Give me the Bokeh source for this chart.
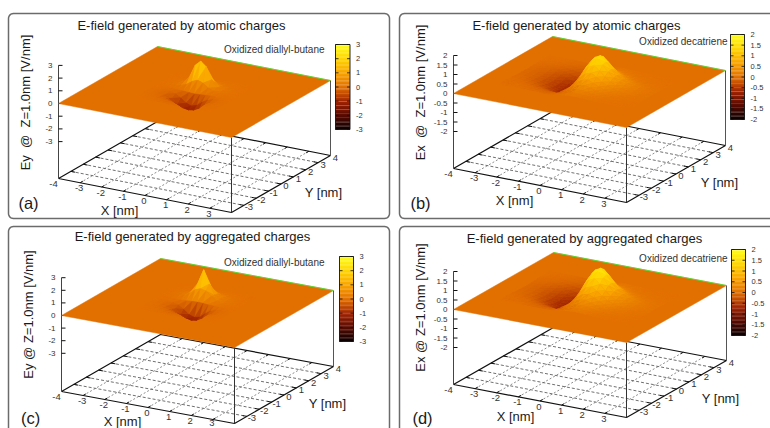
import math
from bokeh.plotting import figure
from bokeh.models import Range1d
from bokeh.embed import file_html
from bokeh.resources import INLINE
from bokeh.core.properties import value

FONT = value("Liberation Sans")

# ---- axis ticks -------------------------------------------------------
X_TICKS = [-4, -3, -2, -1, 0, 1, 2, 3]
Y_TICKS = [-3, -2, -1, 0, 1, 2, 3, 4]
Z_TICKS_EY = [3, 2, 1, 0, -1, -2, -3]
Z_TICKS_EX = [2, 1.5, 1, 0.5, 0, -0.5, -1, -1.5, -2]

# ---- surface nodes (nm) -------------------------------------------------
NODES_X_EY = [-1.75, -1.5, -1.25, -1, -0.75, -0.5, -0.25, 0, 0.25, 0.5, 0.75, 1, 1.25, 1.5, 1.75]
NODES_Y_EY = [1.75, 1.5, 1.25, 1, 0.75, 0.5, 0.25, 0, -0.25, -0.5, -0.75, -1, -1.25, -1.5, -1.75]
NODES_X_EX = [-3, -2.75, -2.5, -2.25, -2, -1.75, -1.5, -1.25, -1, -0.75, -0.5, -0.25, 0,
              0.25, 0.5, 0.75, 1, 1.25, 1.5, 1.75, 2, 2.25, 2.5, 2.75, 3]
NODES_Y_EX = [2, 1.75, 1.5, 1.25, 1, 0.75, 0.5, 0.25, 0, -0.25, -0.5, -0.75, -1, -1.25, -1.5, -1.75, -2]

# ---- values (V/nm); rows follow the Y nodes ------------------------------
FIELD_A = [
    [0, 0, .01, .01, .02, .02, .03, .03, .03, .03, .02, .02, .01, .01, 0],
    [0, .01, .01, .02, .03, .04, .05, .06, .06, .05, .04, .03, .02, .01, 0],
    [.01, .01, .02, .04, .06, .1, .14, .16, .15, .12, .08, .05, .03, .02, .01],
    [.01, .02, .04, .07, .13, .23, .32, .36, .33, .24, .14, .07, .04, .02, .01],
    [.01, .03, .06, .12, .24, .5, .95, 1.15, .98, .52, .25, .13, .06, .03, .01],
    [.01, .03, .06, .13, .3, .8, 1.75, 2.15, 1.8, .85, .32, .14, .06, .03, .01],
    [.01, .02, .04, .08, .16, .32, .62, .8, .65, .34, .16, .08, .04, .02, .01],
    [0, 0, 0, -.01, -.03, -.05, -.08, -.1, -.08, -.05, -.03, -.01, 0, 0, 0],
    [0, -.01, -.03, -.08, -.18, -.42, -.75, -.9, -.78, -.45, -.2, -.08, -.03, -.01, 0],
    [-.01, -.02, -.06, -.15, -.4, -.8, -1.05, -1.12, -1.05, -.82, -.42, -.16, -.06, -.02, -.01],
    [-.01, -.02, -.05, -.12, -.3, -.55, -.72, -.78, -.72, -.55, -.3, -.13, -.05, -.02, -.01],
    [-.01, -.02, -.04, -.08, -.15, -.24, -.32, -.36, -.33, -.25, -.15, -.08, -.04, -.02, -.01],
    [0, -.01, -.02, -.04, -.07, -.11, -.14, -.15, -.14, -.11, -.07, -.04, -.02, -.01, 0],
    [0, -.01, -.01, -.02, -.03, -.05, -.06, -.07, -.06, -.05, -.03, -.02, -.01, -.01, 0],
    [0, 0, -.01, -.01, -.02, -.02, -.03, -.03, -.03, -.02, -.02, -.01, -.01, 0, 0],
]
FIELD_C = [
    [0, 0, .01, .01, .02, .02, .03, .03, .03, .02, .02, .01, .01, 0, 0],
    [0, .01, .01, .02, .03, .05, .06, .07, .06, .05, .04, .03, .02, .01, 0],
    [.01, .01, .02, .04, .07, .11, .15, .17, .15, .12, .08, .05, .03, .01, .01],
    [.01, .03, .05, .09, .15, .23, .32, .36, .33, .25, .16, .09, .05, .02, .01],
    [.01, .03, .07, .13, .24, .42, .75, .95, .78, .45, .25, .13, .07, .03, .01],
    [.01, .03, .07, .13, .24, .46, 1.25, 2.35, 1.3, .5, .26, .14, .07, .03, .01],
    [.01, .02, .05, .12, .24, .5, .85, 1.0, .9, .55, .26, .12, .05, .02, .01],
    [0, 0, .01, .02, .04, .06, .1, .12, .1, .06, .04, .02, .01, 0, 0],
    [0, -.01, -.03, -.08, -.2, -.45, -.8, -.95, -.85, -.5, -.22, -.08, -.03, -.01, 0],
    [-.01, -.02, -.06, -.14, -.36, -.72, -.98, -1.08, -1.0, -.75, -.38, -.15, -.06, -.02, -.01],
    [-.01, -.02, -.05, -.12, -.28, -.5, -.68, -.76, -.7, -.52, -.29, -.13, -.05, -.02, -.01],
    [-.01, -.02, -.04, -.08, -.15, -.25, -.34, -.38, -.35, -.26, -.15, -.08, -.04, -.02, -.01],
    [0, -.01, -.02, -.04, -.07, -.11, -.15, -.16, -.15, -.11, -.07, -.04, -.02, -.01, 0],
    [0, -.01, -.01, -.02, -.03, -.05, -.06, -.07, -.06, -.05, -.03, -.02, -.01, -.01, 0],
    [0, 0, -.01, -.01, -.02, -.02, -.03, -.03, -.03, -.02, -.02, -.01, -.01, 0, 0],
]
FIELD_B = [
    [0, -.01, -.01, -.01, -.02, -.03, -.03, -.04, -.05, -.04, -.02, .01, .04, .05, .06, .05, .04, .02, .02, .01, .01, .01, 0, 0, 0],
    [-.01, -.01, -.01, -.02, -.03, -.04, -.06, -.07, -.08, -.07, -.04, .02, .06, .08, .09, .07, .05, .04, .03, .02, .01, .01, .01, 0, 0],
    [-.01, -.02, -.02, -.03, -.05, -.07, -.1, -.12, -.14, -.12, -.06, .03, .1, .14, .15, .12, .09, .06, .04, .03, .02, .02, .01, .01, .01],
    [-.02, -.03, -.04, -.06, -.08, -.12, -.16, -.2, -.23, -.2, -.1, .05, .15, .22, .24, .2, .14, .1, .07, .05, .04, .02, .02, .01, .01],
    [-.03, -.04, -.06, -.09, -.13, -.19, -.25, -.32, -.36, -.32, -.16, .08, .26, .36, .41, .33, .24, .17, .12, .08, .06, .04, .03, .02, .01],
    [-.04, -.06, -.09, -.12, -.18, -.26, -.35, -.45, -.5, -.45, -.22, .13, .4, .57, .63, .51, .37, .26, .18, .13, .09, .06, .04, .03, .02],
    [-.05, -.07, -.1, -.15, -.22, -.31, -.42, -.54, -.61, -.54, -.26, .19, .61, .86, .96, .78, .56, .4, .28, .2, .14, .1, .06, .04, .03],
    [-.06, -.08, -.12, -.16, -.24, -.35, -.47, -.6, -.68, -.6, -.29, .27, .86, 1.22, 1.35, 1.1, .79, .56, .4, .28, .2, .14, .09, .06, .05],
    [-.06, -.08, -.12, -.17, -.25, -.36, -.48, -.62, -.7, -.62, -.3, .3, .95, 1.35, 1.5, 1.22, .88, .62, .44, .31, .22, .15, .1, .07, .05],
    [-.06, -.08, -.12, -.16, -.24, -.35, -.47, -.6, -.68, -.6, -.29, .29, .9, 1.28, 1.43, 1.16, .84, .59, .42, .29, .21, .14, .1, .07, .05],
    [-.05, -.07, -.1, -.15, -.22, -.31, -.42, -.54, -.61, -.54, -.26, .23, .74, 1.05, 1.17, .95, .69, .48, .34, .24, .17, .12, .08, .05, .04],
    [-.04, -.06, -.09, -.12, -.18, -.26, -.35, -.45, -.5, -.45, -.22, .17, .55, .78, .87, .71, .51, .36, .26, .18, .13, .09, .06, .04, .03],
    [-.03, -.04, -.06, -.09, -.13, -.19, -.25, -.32, -.36, -.32, -.16, .12, .38, .54, .6, .49, .35, .25, .18, .12, .09, .06, .04, .03, .02],
    [-.02, -.03, -.04, -.06, -.08, -.12, -.16, -.2, -.23, -.2, -.1, .08, .26, .36, .41, .33, .24, .17, .12, .08, .06, .04, .03, .02, .01],
    [-.01, -.02, -.02, -.03, -.05, -.07, -.1, -.12, -.14, -.12, -.06, .05, .15, .22, .24, .2, .14, .1, .07, .05, .04, .02, .02, .01, .01],
    [-.01, -.01, -.01, -.02, -.03, -.04, -.06, -.07, -.08, -.07, -.04, .03, .1, .14, .15, .12, .09, .06, .04, .03, .02, .02, .01, .01, .01],
    [0, -.01, -.01, -.01, -.02, -.03, -.03, -.04, -.05, -.04, -.02, .02, .06, .08, .09, .07, .05, .04, .03, .02, .01, .01, .01, 0, 0],
]
FIELD_D = [
    [0, -.01, -.01, -.01, -.02, -.03, -.04, -.05, -.05, -.05, -.03, .01, .04, .06, .07, .05, .04, .03, .02, .01, .01, .01, 0, 0, 0],
    [-.01, -.01, -.02, -.02, -.03, -.05, -.06, -.08, -.09, -.08, -.04, .02, .06, .09, .1, .08, .06, .04, .03, .02, .01, .01, .01, 0, 0],
    [-.01, -.02, -.03, -.04, -.06, -.08, -.11, -.14, -.15, -.14, -.07, .03, .11, .15, .17, .14, .1, .07, .05, .03, .02, .02, .01, .01, .01],
    [-.02, -.03, -.04, -.06, -.09, -.13, -.18, -.22, -.25, -.22, -.12, .04, .17, .24, .26, .22, .16, .11, .08, .05, .04, .03, .02, .01, .01],
    [-.04, -.05, -.07, -.1, -.15, -.21, -.28, -.35, -.4, -.35, -.19, .07, .28, .41, .45, .36, .26, .18, .13, .09, .06, .04, .03, .02, .01],
    [-.05, -.06, -.09, -.14, -.2, -.29, -.39, -.49, -.55, -.49, -.26, .11, .44, .63, .69, .57, .41, .29, .2, .14, .1, .07, .05, .03, .02],
    [-.06, -.08, -.11, -.17, -.24, -.35, -.47, -.59, -.66, -.59, -.31, .16, .67, .96, 1.06, .86, .63, .44, .31, .21, .15, .1, .07, .05, .03],
    [-.07, -.09, -.13, -.18, -.27, -.39, -.52, -.66, -.74, -.66, -.35, .23, .95, 1.35, 1.49, 1.22, .88, .61, .43, .3, .22, .14, .1, .07, .05],
    [-.07, -.09, -.13, -.19, -.28, -.4, -.54, -.68, -.76, -.68, -.36, .25, 1.05, 1.5, 1.65, 1.35, .98, .68, .48, .33, .24, .16, .11, .08, .05],
    [-.07, -.09, -.13, -.18, -.27, -.39, -.52, -.66, -.74, -.66, -.35, .24, 1.0, 1.43, 1.57, 1.28, .93, .65, .46, .31, .23, .15, .1, .08, .05],
    [-.06, -.08, -.11, -.17, -.24, -.35, -.47, -.59, -.66, -.59, -.31, .2, .82, 1.17, 1.29, 1.05, .76, .53, .37, .26, .19, .12, .09, .06, .04],
    [-.05, -.06, -.09, -.14, -.2, -.29, -.39, -.49, -.55, -.49, -.26, .15, .61, .87, .96, .78, .57, .39, .28, .19, .14, .09, .06, .05, .03],
    [-.04, -.05, -.07, -.1, -.15, -.21, -.28, -.35, -.4, -.35, -.19, .1, .42, .6, .66, .54, .39, .27, .19, .13, .1, .06, .04, .03, .02],
    [-.02, -.03, -.04, -.06, -.09, -.13, -.18, -.22, -.25, -.22, -.12, .07, .28, .41, .45, .36, .26, .18, .13, .09, .06, .04, .03, .02, .01],
    [-.01, -.02, -.03, -.04, -.06, -.08, -.11, -.14, -.15, -.14, -.07, .04, .17, .24, .26, .22, .16, .11, .08, .05, .04, .03, .02, .01, .01],
    [-.01, -.01, -.02, -.02, -.03, -.05, -.06, -.08, -.09, -.08, -.04, .03, .11, .15, .17, .14, .1, .07, .05, .03, .02, .02, .01, .01, .01],
    [0, -.01, -.01, -.01, -.02, -.03, -.04, -.05, -.05, -.05, -.03, .02, .06, .09, .1, .08, .06, .04, .03, .02, .01, .01, .01, 0, 0],
]

# ---- palette of the colour bar -------------------------------------------
PAL_POS = [0, .17, .33, .5, .67, .83, 1]
PAL_RGB = [(10, 0, 0), (90, 10, 0), (160, 35, 0), (226, 112, 0), (250, 165, 0), (255, 212, 0), (255, 255, 30)]


def pal(f):
    f = min(1, max(0, f))
    for i in range(len(PAL_POS) - 1):
        if f <= PAL_POS[i + 1]:
            t = (f - PAL_POS[i]) / (PAL_POS[i + 1] - PAL_POS[i])
            a, b = PAL_RGB[i], PAL_RGB[i + 1]
            return "#%02x%02x%02x" % tuple(int(round(a[k] + t * (b[k] - a[k]))) for k in range(3))
    return "#ffff1e"


SP = "\u00a0\u00a0"
PANELS = [
    dict(L=(58, 178), F=(231, 212), R=(330, 155), z0=103, k=12.7, zt=Z_TICKS_EY, field=FIELD_A, nx=NODES_X_EY, ny=NODES_Y_EY,
         box=(8, 13, 389, 218), title="E-field generated by atomic charges", tpos=(181, 25),
         note="Oxidized diallyl-butane", npos=(324, 49), cb=(335, 44, 349.5, 129),
         ylab="Ey" + SP + "@" + SP + "Z=1.0nm [V/nm]", ypos=(25, 102), tag="(a)", tagpos=(28, 202), xl=(119, 210), yl=(323, 192)),
    dict(L=(453, 168), F=(626, 202), R=(725, 145), z0=93, k=19, zt=Z_TICKS_EX, field=FIELD_B, nx=NODES_X_EX, ny=NODES_Y_EX,
         box=(399, 13, 790, 218), title="E-field generated by atomic charges", tpos=(576, 25),
         note="Oxidized decatriene", npos=(727, 41), cb=(730, 34, 744, 119),
         ylab="Ex" + SP + "@" + SP + "Z=1.0nm [V/nm]", ypos=(420, 92), tag="(b)", tagpos=(420, 202), xl=(514, 200), yl=(719, 182)),
    dict(L=(61, 391), F=(234, 423), R=(333, 366), z0=315, k=12.6, zt=Z_TICKS_EY, field=FIELD_C, nx=NODES_X_EY, ny=NODES_Y_EY,
         box=(8, 226, 389, 450), title="E-field generated by aggregated charges", tpos=(192, 236),
         note="Oxidized diallyl-butane", npos=(324, 262), cb=(339, 256, 353, 341),
         ylab="Ey @ Z=1.0nm [V/nm]", ypos=(28, 314), tag="(c)", tagpos=(30, 417), xl=(122, 421), yl=(327, 403)),
    dict(L=(453, 384), F=(626, 417), R=(726, 360), z0=309, k=19, zt=Z_TICKS_EX, field=FIELD_D, nx=NODES_X_EX, ny=NODES_Y_EX,
         box=(399, 226, 790, 450), title="E-field generated by aggregated charges", tpos=(584, 238),
         note="Oxidized decatriene", npos=(727, 258), cb=(731, 249, 745, 335),
         ylab="Ex @ Z=1.0nm [V/nm]", ypos=(420, 307), tag="(d)", tagpos=(422, 417), xl=(515, 416), yl=(720, 398)),
]

p = figure(width=770, height=428, output_backend="svg", toolbar_location=None,
           x_range=Range1d(0, 770), y_range=Range1d(428, 0), min_border=0)
p.xaxis.visible = False
p.yaxis.visible = False
p.grid.visible = False
p.outline_line_color = None
p.background_fill_color = "white"


def txt(x, y, s, size, align="center", color="#1a1a1a", angle=0.0):
    p.text(x=[x], y=[y], text=[s], text_font=FONT, text_font_size=size, text_align=align,
           text_baseline="middle", text_color=color, angle=angle)


for P in PANELS:
    L, F, R = P["L"], P["F"], P["R"]
    dz = L[1] - P["z0"]
    k = P["k"]
    zmax = max(P["zt"])

    def proj(x, y, z=None):
        a, b = (x + 4) / 8, (y + 4) / 8
        px = L[0] + a * (F[0] - L[0]) + b * (R[0] - F[0])
        py = L[1] + a * (F[1] - L[1]) + b * (R[1] - F[1])
        if z is not None:
            py = py - dz - z * k
        return px, py

    # frame
    x0, y0, x1, y1 = P["box"]
    r = 5
    fx, fy = [], []
    for cx, cy, a0 in [(x0 + r, y0 + r, 180), (x1 - r, y0 + r, 270), (x1 - r, y1 - r, 0), (x0 + r, y1 - r, 90)]:
        for s in range(7):
            t = math.radians(a0 + s * 15)
            fx.append(cx + r * math.cos(t))
            fy.append(cy + r * math.sin(t))
    fx.append(fx[0])
    fy.append(fy[0])
    p.line(fx, fy, line_color="#6b6b6b", line_width=1.5)

    # base grid
    gx, gy = [], []
    for v in X_TICKS[1:]:
        a, b = proj(v, -4), proj(v, 4)
        gx.append([a[0], b[0]]); gy.append([a[1], b[1]])
    p.multi_line(gx, gy, line_color="#707070", line_width=0.8, line_dash="2 2")
    gx, gy = [], []
    for v in Y_TICKS[:-1]:
        a, b = proj(-4, v), proj(4, v)
        gx.append([a[0], b[0]]); gy.append([a[1], b[1]])
    p.multi_line(gx, gy, line_color="#606060", line_width=0.9, line_dash="3 2")

    # base edges and vertical edges
    c = [proj(-4, -4), proj(4, -4), proj(4, 4), proj(-4, 4)]
    p.line([q[0] for q in c + c[:1]], [q[1] for q in c + c[:1]], line_color="#111111", line_width=1.2)
    ztop = proj(-4, -4, zmax)
    p.line([L[0], ztop[0]], [L[1], ztop[1]], line_color="#444444", line_width=1.0)
    tf = proj(4, -4, 0)
    p.line([F[0], tf[0]], [F[1], tf[1]], line_color="#333333", line_width=1.0)
    tr = proj(4, 4, 0)
    p.line([R[0], tr[0]], [R[1], tr[1]], line_color="#555555", line_width=1.0)

    # ticks
    sx, sy = [], []
    for v in X_TICKS[1:]:
        for e, d in ((-4, .22), (4, -.22)):
            a, b = proj(v, e), proj(v, e + d)
            sx.append([a[0], b[0]]); sy.append([a[1], b[1]])
    for v in Y_TICKS[:-1]:
        for e, d in ((-4, .2), (4, -.2)):
            a, b = proj(e, v), proj(e + d, v)
            sx.append([a[0], b[0]]); sy.append([a[1], b[1]])
    for v in P["zt"]:
        a = proj(-4, -4, v)
        sx.append([a[0], a[0] + 4]); sy.append([a[1], a[1]])
    p.multi_line(sx, sy, line_color="#111111", line_width=1.0)

    # surface: flat plane first; troughs near-to-far so their floor outlines them,
    # then the raised parts far-to-near
    zero = pal(0.5)
    back = [proj(-4, -4, 0), proj(4, -4, 0), proj(4, 4, 0), proj(-4, 4, 0)]
    p.patch([q[0] for q in back], [q[1] for q in back], fill_color=zero, line_color=zero, line_width=0.5)
    nx, ny, field = P["nx"], P["ny"], P["field"]
    low, high = [], []

    def tri(pts):
        q = [proj(u, v, w) for u, v, w in pts]
        mz = sum(t[2] for t in pts) / 3
        depth = sum(t[0] - t[1] for t in pts)
        rec = (depth, [t[0] for t in q], [t[1] for t in q], pal(0.5 + mz / (2 * zmax)))
        (low if mz < 0 else high).append(rec)

    for i in range(len(nx) - 1):
        for j in range(len(ny) - 1):
            xa, xb = nx[i], nx[i + 1]
            yh, yl = ny[j], ny[j + 1]
            far = (xa, yh, field[j][i])
            left = (xa, yl, field[j + 1][i])
            right = (xb, yh, field[j][i + 1])
            near = (xb, yl, field[j + 1][i + 1])
            tri([far, left, right])
            tri([near, left, right])
    low.sort(key=lambda t: -t[0])
    high.sort(key=lambda t: t[0])
    recs = low + high
    cols = [t[3] for t in recs]
    p.patches([t[1] for t in recs], [t[2] for t in recs], fill_color=cols, line_color=cols, line_width=0.4)
    p.line([back[3][0], back[2][0]], [back[3][1], back[2][1]], line_color="#4fdc3a", line_width=0.9)

    # colour bar
    bx0, by0, bx1, by1 = P["cb"]
    n = 64
    h = (by1 - by0) / n
    p.quad(left=[bx0] * n, right=[bx1] * n,
           top=[by1 - (i + 1) * h - 0.2 for i in range(n)], bottom=[by1 - i * h for i in range(n)],
           fill_color=[pal((i + .5) / n) for i in range(n)], line_color=None)
    p.line([bx0, bx1, bx1, bx0, bx0], [by0, by0, by1, by1, by0], line_color="#111111", line_width=0.9)
    cx, cy = [], []
    for v in P["zt"]:
        yy = by1 - (v + zmax) / (2 * zmax) * (by1 - by0)
        cx += [[bx0, bx0 + 3], [bx1, bx1 - 3]]
        cy += [[yy, yy], [yy, yy]]
        txt(bx1 + 6, yy, ("%g" % v), "7.5px", "left", "#333333")
    p.multi_line(cx, cy, line_color="#111111", line_width=0.8)

    # tick labels
    for v in X_TICKS:
        q = proj(v, -4)
        off = -5 if v == -4 else -1
        txt(q[0] + off, min(q[1] + 5.5, 422.5), str(v), "9.5px", "center", "#333333")
    for v in Y_TICKS:
        q = proj(4, v)
        txt(q[0] + 5, q[1] + 2, str(v), "9.5px", "center", "#333333")
    for v in P["zt"]:
        q = proj(-4, -4, v)
        txt(q[0] - 6, q[1], "%g" % v, "8px", "right", "#333333")

    # labels
    txt(*P["tpos"], P["title"], "13px")
    txt(*P["npos"], P["note"], "10px", "right", "#333333")
    txt(*P["ypos"], P["ylab"], "13px", "center", "#1a1a1a", math.pi / 2)
    txt(*P["tagpos"], P["tag"], "16.5px")
    txt(*P["xl"], "X [nm]", "13px")
    txt(*P["yl"], "Y [nm]", "13px")

open("out.html", "w").write(file_html(p, INLINE))
